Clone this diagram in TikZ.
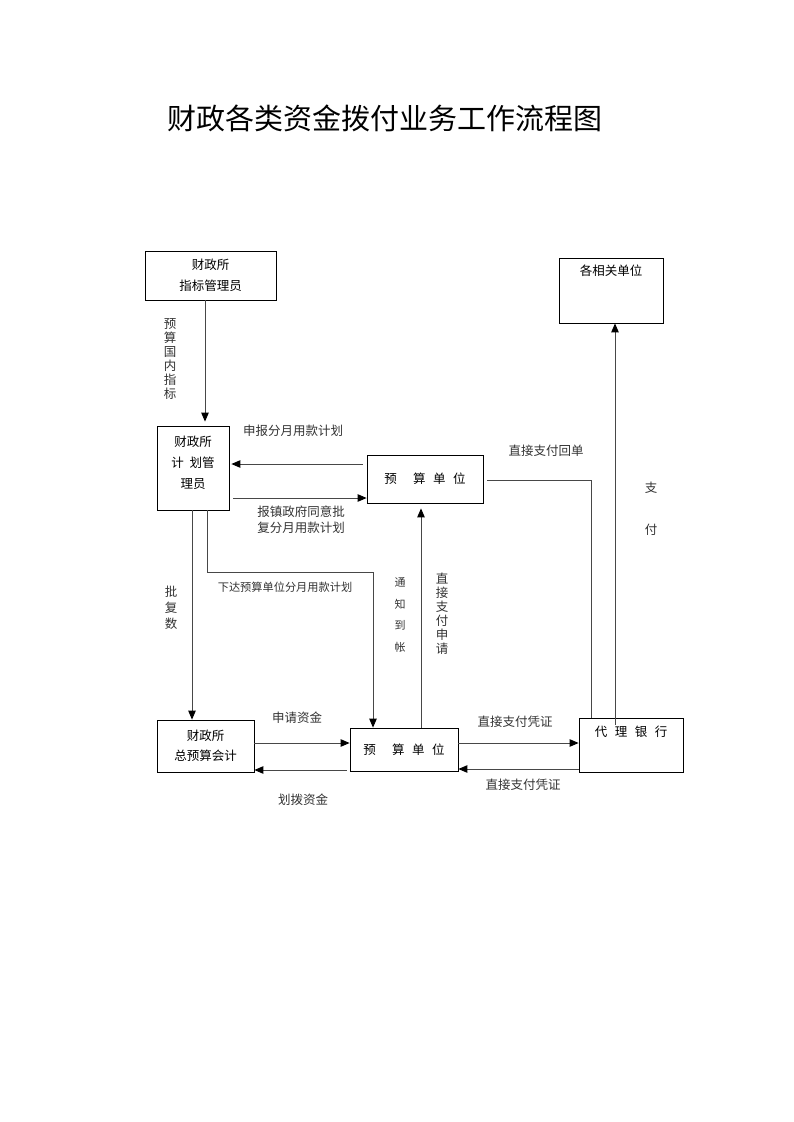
\documentclass[tikz,border=0pt]{standalone}
\usepackage{fontspec}
\setmainfont{Noto Sans CJK SC}
\usetikzlibrary{arrows.meta}
\begin{document}
\begin{tikzpicture}[x=1pt,y=-1pt,
  box/.style={draw, line width=0.8pt, inner sep=0pt, font=\fontsize{12.5}{21}\selectfont, align=center},
  btxt/.style={font=\fontsize{12.5}{21}\selectfont, align=center, inner sep=0pt},
  lbl/.style={font=\fontsize{12.5}{16}\selectfont, align=center, inner sep=0pt, text=black!80},
  vlbl/.style={font=\fontsize{12.5}{14}\selectfont, align=center, inner sep=0pt, text=black!80},
  conn/.style={line width=0.9pt, draw=black!72},
  arr/.style={conn, -{Triangle[length=9pt,width=7.5pt,color=black]}}
]
\useasboundingbox (0,0) rectangle (793,1122);
\fill[white] (0,0) rectangle (793,1122);

\node[font=\fontsize{29}{32}\selectfont] (title) at (385,118) {财政各类资金拨付业务工作流程图};

% boxes
\node[box, minimum width=131pt, minimum height=49pt] (zb) at (210.5,275.5) {财政所\\指标管理员};
\node[box, minimum width=104pt, minimum height=65pt,
      label={[btxt, anchor=north, yshift=-7pt]north:各相关单位}] (xg) at (611,290.5) {};
\node[box, minimum width=72pt, minimum height=84pt,
      label={[btxt, yshift=5pt]center:财政所\\计\ \ 划管\\理员}] (jh) at (193,468) {};
\node[box, minimum width=116pt, minimum height=48pt] (ysA) at (425,479) {预\hspace{1.3em}算\hspace{0.6em}单\hspace{0.6em}位};
\node[box, minimum width=97pt, minimum height=52pt, font=\fontsize{12.5}{20}\selectfont] (zys) at (205.5,746) {财政所\\总预算会计};
\node[box, minimum width=108pt, minimum height=43pt] (ysB) at (404,749.5) {预\hspace{1.3em}算\hspace{0.6em}单\hspace{0.6em}位};
\node[box, minimum width=104pt, minimum height=54pt,
      label={[btxt, anchor=north, yshift=-8pt]north:代\hspace{0.6em}理\hspace{0.6em}银\hspace{0.6em}行}] (dl) at (631,745) {};

% connectors
\draw[arr, shorten >=4pt] (zb.south -| 205,0) -- (jh.north -| 205,0);
\node[vlbl] (l1) at (170,359) {预\\算\\国\\内\\指\\标};

\draw[arr, shorten <=4pt, shorten >=2pt] (ysA.west |- 0,464) -- (jh.east |- 0,464);
\node[lbl] (l2) at (293,431) {申报分月用款计划};

\draw[arr, shorten <=4pt] (jh.east |- 0,498) -- (ysA.west |- 0,498);
\node[lbl] (l3) at (301,520) {报镇政府同意批\\复分月用款计划};

\draw[arr] (jh.south -| 192,0) -- (zys.north -| 192,0);
\node[vlbl, font=\fontsize{12.5}{16}\selectfont] (l4) at (171,608) {批\\复\\数};

\draw[arr] (jh.south -| 207,0) -- (207,572) -- (373,572) -- (ysB.north -| 373,0);
\node[lbl, font=\fontsize{11.2}{13}\selectfont] (l5) at (285,587) {下达预算单位分月用款计划};

\draw[arr, shorten >=5pt] (ysB.north -| 421,0) -- (ysA.south -| 421,0);
\node[vlbl] (l6) at (442,614) {直\\接\\支\\付\\申\\请};
\node[vlbl, font=\fontsize{11}{21.5}\selectfont] (l7) at (400,615) {通\\知\\到\\帐};

\draw[arr] (zys.east |- 0,743) -- (ysB.west |- 0,743);
\node[lbl] (l8) at (297,718) {申请资金};
\draw[arr, shorten <=3pt] (ysB.west |- 0,770) -- (zys.east |- 0,770);
\node[lbl] (l9) at (303,800) {划拨资金};

\draw[arr] (ysB.east |- 0,743) -- (dl.west |- 0,743);
\node[lbl] (l10) at (515,722) {直接支付凭证};
\draw[arr] (dl.west |- 0,769) -- (ysB.east |- 0,769);
\node[lbl] (l11) at (523,785) {直接支付凭证};

\draw[conn, shorten <=4pt] (ysA.east |- 0,480) -- (591,480) -- (dl.north -| 591,0);
\node[lbl] (l12) at (546,451) {直接支付回单};

\draw[arr] ([yshift=-7pt]dl.north -| 615,0) -- (xg.south -| 615,0);
\node[lbl] (l13) at (651,488) {支};
\node[lbl] (l14) at (651,530) {付};
\end{tikzpicture}
\end{document}
